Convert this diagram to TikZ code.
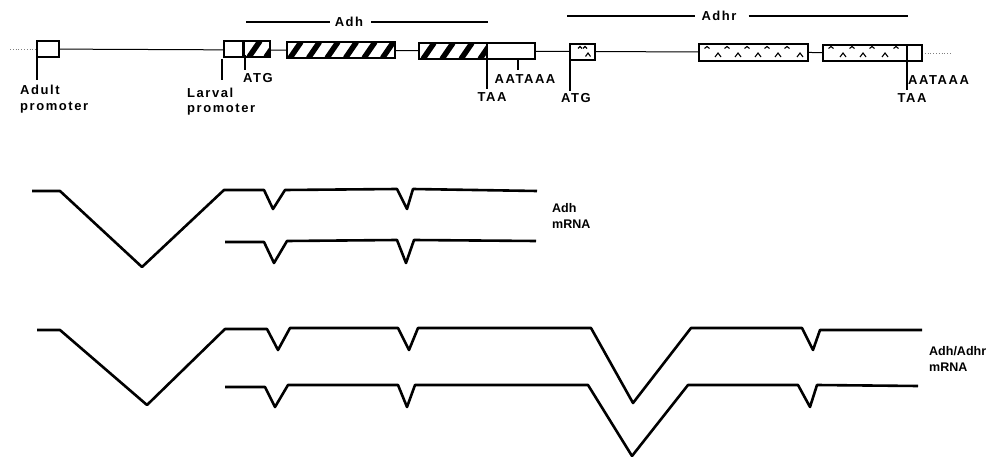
\documentclass[tikz,border=0pt]{standalone}
\usepackage{fontspec}
\setmainfont{Liberation Sans}
\newfontfamily\spaced[LetterSpace=12]{Liberation Sans}
\begin{document}
\begin{tikzpicture}[x=1pt,y=-1pt]
\tikzset{
  lab/.style={font=\spaced\bfseries\fontsize{13}{14}\selectfont, inner sep=0pt},
  mlab/.style={font=\bfseries\fontsize{12.5}{14}\selectfont, inner sep=0pt, anchor=west},
  gline/.style={line width=1pt},
  tickl/.style={line width=1.3pt},
  exon/.style={draw, line width=1.2pt, fill=white},
  stripe/.style={line width=5.5pt},
  mrna/.style={line width=2.6pt, line join=round},
  spanbar/.style={line width=1.6pt},
  caret/.style={line width=1.1pt}
}
\useasboundingbox (0,0) rectangle (999,457);

% ---- gene line ----
\draw[gray, dotted, line width=0.8pt] (10,49) -- (37,49);
\draw[gray, dotted, line width=0.8pt] (922,53) -- (952,53);
\draw[gline] (37,49) -- (922,53);

% ---- plain exons ----
\draw[exon] (37,41) rectangle (59,57);
\draw[exon] (224,41) rectangle (243,57);
\draw[exon] (487,43) rectangle (535,59);
\draw[exon] (907,45) rectangle (922,61);

% ---- hatched exons ----
\fill[white] (244,41) rectangle (270,57);
\begin{scope}
  \clip (244,41) rectangle (270,57);
  \foreach \s in {249,266} \draw[stripe] (\s,57) -- ++(11,-16);
\end{scope}
\draw[line width=1.2pt] (244,41) rectangle (270,57);

\fill[white] (287,42) rectangle (395,58);
\begin{scope}
  \clip (287,42) rectangle (395,58);
  \foreach \s in {290,308.5,327,345.5,364,382.5} \draw[stripe] (\s,58) -- ++(11,-16);
\end{scope}
\draw[line width=1.2pt] (287,42) rectangle (395,58);

\fill[white] (419,43) rectangle (487,59);
\begin{scope}
  \clip (419,43) rectangle (487,59);
  \foreach \s in {405,423,442,461,480} \draw[stripe] (\s,59) -- ++(11,-16);
\end{scope}
\draw[line width=1.2pt] (419,43) rectangle (487,59);

% ---- Adhr patterned exons ----
\draw[exon] (570,44) rectangle (595,60);
\draw[exon] (699,44) rectangle (808,61);
\draw[exon] (823,45) rectangle (907,61);
\foreach \x in {580,585} \draw[caret] (\x-2,48.5) -- (\x,46.5) -- (\x+2,48.5);
\draw[caret] (585.5,56.5) -- (588,53) -- (590.5,56.5);
\foreach \x in {707,727,747,767,787,831,852,872,896}
  \draw[caret] (\x-2.5,48.5) -- (\x,46.5) -- (\x+2.5,48.5);
\foreach \x in {718,738,758,778,800,843,863,885}
  \draw[caret] (\x-3,57) -- (\x,53) -- (\x+3,57);

% ---- span bars ----
\node[lab] (adhname) at (349,22) {Adh};
\draw[spanbar] (246,22) -- ([xshift=-5pt]adhname.west);
\draw[spanbar] ([xshift=8pt]adhname.east) -- (488,22);
\node[lab] (adhrname) at (719,16) {Adhr};
\draw[spanbar] (567,16) -- ([xshift=-6pt]adhrname.west);
\draw[spanbar] ([xshift=12pt]adhrname.east) -- (908,16);

% ---- ticks and labels ----
\coordinate (t1a) at (37,57);  \coordinate (t1b) at (37,80);
\draw[tickl] (t1a) -- (t1b);
\node[lab, anchor=west] (adult1) at (20,90) {Adult};
\node[lab, anchor=west] (adult2) at (20,108) {promoter};

\coordinate (t2a) at (222,59); \coordinate (t2b) at (222,80);
\draw[tickl] (t2a) -- (t2b);
\node[lab, anchor=west] (larv1) at (187,93) {Larval};
\node[lab, anchor=west] (larv2) at (187,110) {promoter};

\coordinate (t3a) at (245,55); \coordinate (t3b) at (245,70);
\draw[tickl] (t3a) -- (t3b);
\node[lab] (atg1) at (258,78) {ATG};

\coordinate (t4a) at (487,59); \coordinate (t4b) at (487,89);
\draw[tickl] (t4a) -- (t4b);
\node[lab] (taa1) at (492,97) {TAA};

\coordinate (t5a) at (518,59); \coordinate (t5b) at (518,70);
\draw[tickl] (t5a) -- (t5b);
\node[lab] (pa1) at (525,79) {AATAAA};

\coordinate (t6a) at (570,60); \coordinate (t6b) at (570,91);
\draw[tickl] (t6a) -- (t6b);
\node[lab] (atg2) at (576,98) {ATG};

\coordinate (t7a) at (907,61); \coordinate (t7b) at (907,90);
\draw[tickl] (t7a) -- (t7b);
\node[lab, anchor=west] (pa2) at (908,80) {AATAAA};
\node[lab] (taa2) at (912,98) {TAA};

% ---- Adh mRNA ----
\draw[mrna] (32,191) -- (60,191) -- (142,267) -- (224,190) -- (264,190)
  -- (273,209) -- (285,190) -- (397,189) -- (407,209) -- (413,189) -- (537,191);
\draw[mrna] (225,242) -- (264,242) -- (274,263) -- (287,241) -- (397,240)
  -- (406,263) -- (414,240) -- (536,241);
\node[mlab] (adhm1) at (552,208) {Adh};
\node[mlab] (adhm2) at (552,224) {mRNA};

% ---- Adh/Adhr mRNA ----
\draw[mrna] (37,330) -- (60,330) -- (147,405) -- (225,329) -- (267,329)
  -- (278,350) -- (290,328) -- (398,328) -- (409,350) -- (418,328)
  -- (591,328) -- (633,403) -- (691,328) -- (802,328) -- (813,350)
  -- (820,330) -- (922,330);
\draw[mrna] (225,387) -- (265,387) -- (275,407) -- (288,385) -- (398,385)
  -- (407,407) -- (415,385) -- (588,385) -- (632,456) -- (688,385)
  -- (798,385) -- (810,407) -- (817,385) -- (918,386);
\node[mlab] (ahm1) at (929,351) {Adh/Adhr};
\node[mlab] (ahm2) at (929,367) {mRNA};
\end{tikzpicture}
\end{document}
